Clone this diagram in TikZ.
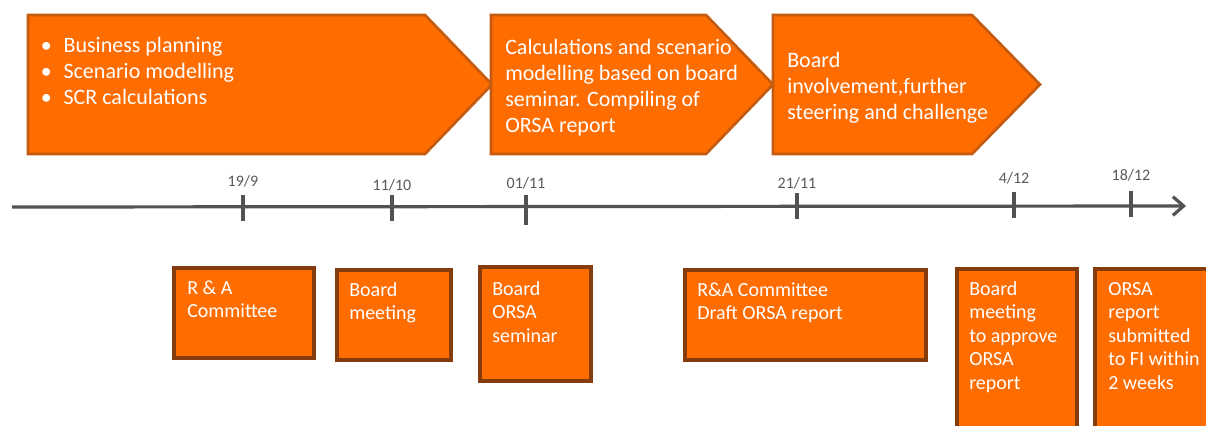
\documentclass[tikz,border=0pt]{standalone}
\usepackage{fontspec}
\setmainfont{Carlito}
\usetikzlibrary{arrows.meta}
\definecolor{orfill}{HTML}{FF6C00}
\definecolor{chevline}{HTML}{C55A11}
\definecolor{boxline}{HTML}{843C0C}
\definecolor{axisgray}{HTML}{525252}
\definecolor{labgray}{HTML}{595959}
\newcommand{\lines}[1]{\begin{tabular}[t]{@{}l@{}}#1\end{tabular}}
\newcommand{\bul}{\makebox[19pt][l]{\hspace{2pt}\textbullet}}
\begin{document}
\begin{tikzpicture}[x=0.75pt,y=-0.75pt,
  chev/.style={fill=orfill,draw=chevline,line width=2pt,line join=miter},
  evbox/.style={fill=orfill,draw=boxline,line width=2.4pt},
  toptext/.style={text=white,anchor=base west,inner sep=0pt,font=\fontsize{16.5}{19.5}\selectfont},
  bottext/.style={text=white,anchor=base west,inner sep=0pt,font=\fontsize{15}{17.7}\selectfont},
  datelab/.style={text=labgray,anchor=base,inner sep=0pt,font=\fontsize{12}{14}\selectfont},
  tick/.style={draw=axisgray,line width=2.6pt}]
\useasboundingbox (0,0) rectangle (1206,425);
% chevrons
\draw[chev] (28,15) -- (425,15) -- (492,84.5) -- (425,154) -- (28,154) -- cycle;
\draw[chev] (491,15) -- (706,15) -- (773,84.5) -- (706,154) -- (491,154) -- cycle;
\draw[chev] (773,15) -- (972,15) -- (1040,84.5) -- (972,154) -- (773,154) -- cycle;
\node[toptext] (t1) at (38,52) {\lines{\bul Business planning\\ \bul Scenario modelling\\ \bul SCR calculations}};
\node[toptext] (t2) at (505,54) {\lines{Calculations and scenario\\modelling based on board\\seminar. Compiling of\\ORSA report}};
\node[toptext] (t3) at (787,67) {\lines{Board\\involvement,further\\steering and challenge}};
% axis
\coordinate (axL) at (12,207);
\coordinate (axR) at (1186,206);
\draw[draw=axisgray,line width=2.4pt,-{Straight Barb[length=8pt,width=14pt,line width=2.4pt]}] (axL) -- (axR);
\foreach \n/\x/\ya/\yb in {a/243/195/221, b/392/195/221, c/526/195/225, d/797/193/219, e/1014/192/218, f/1131/191/217}{
  \coordinate (tk\n top) at (\x,\ya);
  \coordinate (tk\n bot) at (\x,\yb);
  \draw[tick] (tk\n top) -- (tk\n bot);
}
\node[datelab] (da) at (243,186) {19/9};
\node[datelab] (db) at (392,190) {11/10};
\node[datelab] (dc) at (526,188) {01/11};
\node[datelab] (dd) at (797,188) {21/11};
\node[datelab] (de) at (1014,183) {4/12};
\node[datelab] (df) at (1131,180) {18/12};
% event boxes
\draw[evbox] (174,268) rectangle (314,358);
\draw[evbox] (337,270) rectangle (451,360);
\draw[evbox] (480,267) rectangle (591,381);
\draw[evbox] (685,270) rectangle (926,360);
\draw[evbox] (957,269) rectangle (1077,432);
\draw[evbox] (1095,269) rectangle (1215,432);
\node[bottext] (b1) at (187,294) {\lines{R \& A\\Committee}};
\node[bottext] (b2) at (349,296) {\lines{Board\\meeting}};
\node[bottext] (b3) at (492,295) {\lines{Board\\ORSA\\seminar}};
\node[bottext] (b4) at (697,296) {\lines{R\&A Committee\\Draft ORSA report}};
\node[bottext] (b5) at (969,295) {\lines{Board\\meeting\\to approve\\ORSA\\report}};
\node[bottext] (b6) at (1108,295) {\lines{ORSA\\report\\submitted\\to FI within\\2 weeks}};
\end{tikzpicture}
\end{document}
